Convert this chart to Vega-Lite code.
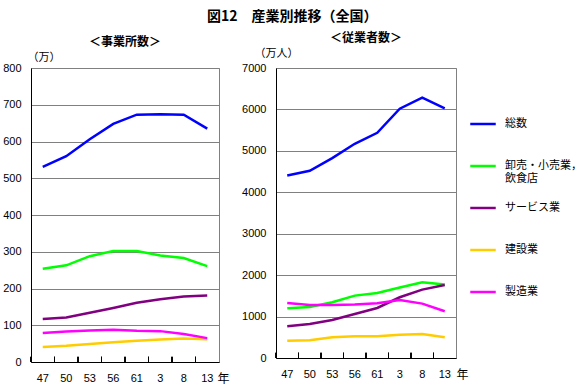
{
  "$schema": "https://vega.github.io/schema/vega-lite/v6.json",
  "padding": {"left": 2, "top": 9, "right": 5, "bottom": 5},
  "title": {"text": "図12　産業別推移（全国）", "fontSize": 14, "fontWeight": "bold", "font": "Noto Sans CJK JP", "color": "black", "anchor": "middle", "offset": 8},
  "data": {"values": [
    {"年": "47", "産業": "総数", "事業所数": 531, "従業者数": 4406},
    {"年": "50", "産業": "総数", "事業所数": 560, "従業者数": 4519},
    {"年": "53", "産業": "総数", "事業所数": 606, "従業者数": 4825},
    {"年": "56", "産業": "総数", "事業所数": 648, "従業者数": 5171},
    {"年": "61", "産業": "総数", "事業所数": 673, "従業者数": 5437},
    {"年": "3", "産業": "総数", "事業所数": 674, "従業者数": 6017},
    {"年": "8", "産業": "総数", "事業所数": 673, "従業者数": 6283},
    {"年": "13", "産業": "総数", "事業所数": 635, "従業者数": 6025},
    {"年": "47", "産業": "卸売・小売業，飲食店", "事業所数": 254, "従業者数": 1200},
    {"年": "50", "産業": "卸売・小売業，飲食店", "事業所数": 263, "従業者数": 1232},
    {"年": "53", "産業": "卸売・小売業，飲食店", "事業所数": 288, "従業者数": 1345},
    {"年": "56", "産業": "卸売・小売業，飲食店", "事業所数": 302, "従業者数": 1506},
    {"年": "61", "産業": "卸売・小売業，飲食店", "事業所数": 302, "従業者数": 1571},
    {"年": "3", "産業": "卸売・小売業，飲食店", "事業所数": 290, "従業者数": 1700},
    {"年": "8", "産業": "卸売・小売業，飲食店", "事業所数": 283, "従業者数": 1829},
    {"年": "13", "産業": "卸売・小売業，飲食店", "事業所数": 261, "従業者数": 1772},
    {"年": "47", "産業": "サービス業", "事業所数": 117, "従業者数": 765},
    {"年": "50", "産業": "サービス業", "事業所数": 121, "従業者数": 822},
    {"年": "53", "産業": "サービス業", "事業所数": 134, "従業者数": 918},
    {"年": "56", "産業": "サービス業", "事業所数": 147, "従業者数": 1063},
    {"年": "61", "産業": "サービス業", "事業所数": 161, "従業者数": 1208},
    {"年": "3", "産業": "サービス業", "事業所数": 171, "従業者数": 1466},
    {"年": "8", "産業": "サービス業", "事業所数": 178, "従業者数": 1651},
    {"年": "13", "産業": "サービス業", "事業所数": 181, "従業者数": 1764},
    {"年": "47", "産業": "建設業", "事業所数": 41, "従業者数": 419},
    {"年": "50", "産業": "建設業", "事業所数": 44, "従業者数": 427},
    {"年": "53", "産業": "建設業", "事業所数": 49, "従業者数": 499},
    {"年": "56", "産業": "建設業", "事業所数": 54, "従業者数": 524},
    {"年": "61", "産業": "建設業", "事業所数": 58, "従業者数": 524},
    {"年": "3", "産業": "建設業", "事業所数": 61, "従業者数": 564},
    {"年": "8", "産業": "建設業", "事業所数": 64, "従業者数": 580},
    {"年": "13", "産業": "建設業", "事業所数": 62, "従業者数": 499},
    {"年": "47", "産業": "製造業", "事業所数": 79, "従業者数": 1329},
    {"年": "50", "産業": "製造業", "事業所数": 83, "従業者数": 1281},
    {"年": "53", "産業": "製造業", "事業所数": 86, "従業者数": 1281},
    {"年": "56", "産業": "製造業", "事業所数": 88, "従業者数": 1289},
    {"年": "61", "産業": "製造業", "事業所数": 85, "従業者数": 1321},
    {"年": "3", "産業": "製造業", "事業所数": 84, "従業者数": 1402},
    {"年": "8", "産業": "製造業", "事業所数": 76, "従業者数": 1313},
    {"年": "13", "産業": "製造業", "事業所数": 65, "従業者数": 1128}
  ]},
  "hconcat": [
    {
      "width": 188,
      "height": 294,
      "title": {"text": "＜事業所数＞", "fontSize": 12, "fontWeight": "bold", "offset": 2},
      "encoding": {
        "x": {"field": "年", "type": "ordinal", "sort": ["47", "50", "53", "56", "61", "3", "8", "13"],
              "scale": {"type": "band", "paddingInner": 0, "paddingOuter": 0},
              "axis": {"ticks": false, "labelPadding": 10,
                       "title": "年", "titleAngle": 0, "titleX": 186, "titleY": 16, "titleAlign": "left", "titleBaseline": "middle", "titleFontWeight": "normal", "titleFontSize": 12}}
      },
      "layer": [
        {
          "mark": {"type": "line", "strokeWidth": 2.5},
          "encoding": {
            "x": {"field": "年", "type": "ordinal", "sort": ["47", "50", "53", "56", "61", "3", "8", "13"], "bandPosition": 0.5},
            "y": {"field": "事業所数", "type": "quantitative", "scale": {"domain": [0, 800]},
                  "axis": {"values": [0, 100, 200, 300, 400, 500, 600, 700, 800], "format": "d", "title": "（万）", "titleAngle": 0, "titleX": -4, "titleY": -11, "titleAlign": "left", "titleBaseline": "middle", "titleFontWeight": "normal", "titleFontSize": 11}},
            "color": {"field": "産業", "type": "nominal", "legend": null,
                      "scale": {"domain": ["総数", "卸売・小売業，飲食店", "サービス業", "建設業", "製造業"], "range": ["#0000FF", "#00FF00", "#800080", "#FFCC00", "#FF00FF"]}}
          }
        },
        {
          "mark": {"type": "rule", "color": "black", "strokeWidth": 1},
          "encoding": {
            "x": {"field": "年", "type": "ordinal", "sort": ["47", "50", "53", "56", "61", "3", "8", "13"], "bandPosition": 0},
            "y": {"datum": 0, "type": "quantitative",
                  "axis": {"values": [0, 100, 200, 300, 400, 500, 600, 700, 800], "format": "d", "title": "（万）", "titleAngle": 0, "titleX": -4, "titleY": -11, "titleAlign": "left", "titleBaseline": "middle", "titleFontWeight": "normal", "titleFontSize": 11}},
            "y2": {"datum": 14}
          }
        }
      ]
    },
    {
      "width": 180,
      "height": 290,
      "title": {"text": "＜従業者数＞", "fontSize": 12, "fontWeight": "bold", "offset": 2},
      "encoding": {
        "x": {"field": "年", "type": "ordinal", "sort": ["47", "50", "53", "56", "61", "3", "8", "13"],
              "scale": {"type": "band", "paddingInner": 0, "paddingOuter": 0},
              "axis": {"ticks": false, "labelPadding": 10,
                       "title": "年", "titleAngle": 0, "titleX": 180, "titleY": 16, "titleAlign": "left", "titleBaseline": "middle", "titleFontWeight": "normal", "titleFontSize": 12}}
      },
      "layer": [
        {
          "mark": {"type": "line", "strokeWidth": 2.5},
          "encoding": {
            "x": {"field": "年", "type": "ordinal", "sort": ["47", "50", "53", "56", "61", "3", "8", "13"], "bandPosition": 0.5},
            "y": {"field": "従業者数", "type": "quantitative", "scale": {"domain": [0, 7000]},
                  "axis": {"values": [0, 1000, 2000, 3000, 4000, 5000, 6000, 7000], "format": "d", "title": "（万人）", "titleAngle": 0, "titleX": -22, "titleY": -15, "titleAlign": "left", "titleBaseline": "middle", "titleFontWeight": "normal", "titleFontSize": 11}},
            "color": {"field": "産業", "type": "nominal",
                      "scale": {"domain": ["総数", "卸売・小売業，飲食店", "サービス業", "建設業", "製造業"], "range": ["#0000FF", "#00FF00", "#800080", "#FFCC00", "#FF00FF"]},
                      "legend": {"title": null, "orient": "none", "legendX": 193, "legendY": 42, "symbolType": "stroke", "symbolStrokeWidth": 2.5, "symbolSize": 650,
                                 "labelFont": "Noto Sans CJK JP", "labelFontSize": 11, "labelColor": "black", "labelOffset": 8, "rowPadding": 10, "gridAlign": "all",
                                 "labelExpr": "datum.label == '卸売・小売業，飲食店' ? ['卸売・小売業，', '飲食店'] : datum.label"}}
          }
        },
        {
          "mark": {"type": "rule", "color": "black", "strokeWidth": 1},
          "encoding": {
            "x": {"field": "年", "type": "ordinal", "sort": ["47", "50", "53", "56", "61", "3", "8", "13"], "bandPosition": 0},
            "y": {"datum": 0, "type": "quantitative",
                  "axis": {"values": [0, 1000, 2000, 3000, 4000, 5000, 6000, 7000], "format": "d", "title": "（万人）", "titleAngle": 0, "titleX": -22, "titleY": -15, "titleAlign": "left", "titleBaseline": "middle", "titleFontWeight": "normal", "titleFontSize": 11}},
            "y2": {"datum": 125}
          }
        }
      ]
    }
  ],
  "spacing": 57,
  "bounds": "flush",
  "resolve": {"legend": {"color": "independent"}},
  "config": {
    "font": "Noto Sans CJK JP",
    "view": {"stroke": "#808080"},
    "title": {"color": "black"},
    "axis": {"labelFont": "Liberation Sans", "labelFontSize": 11, "labelColor": "black", "domainColor": "black", "titleColor": "black", "titleFont": "Noto Sans CJK JP"},
    "axisY": {"ticks": false, "labelPadding": 10, "grid": true, "gridColor": "#808080", "gridOpacity": 1},
    "axisX": {"grid": false, "labelAngle": 0}
  }
}
